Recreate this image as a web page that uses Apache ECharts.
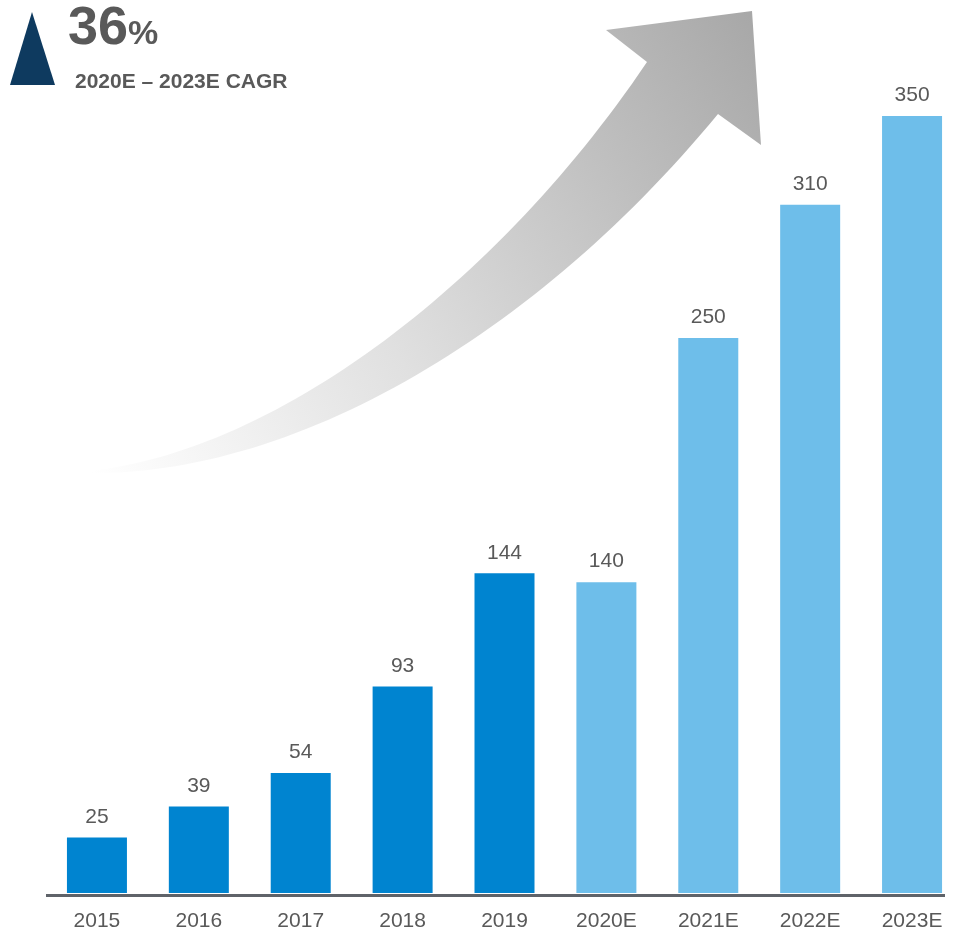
<!DOCTYPE html>
<html>
<head>
<meta charset="utf-8">
<script src="https://cdn.jsdelivr.net/npm/echarts@6/dist/echarts.min.js"></script>
<style>html,body{margin:0;padding:0;background:#fff;overflow:hidden}#c{width:975px;height:932px}</style>
</head>
<body>
<div id="c"></div>
<script>
var categories = ['2015', '2016', '2017', '2018', '2019', '2020E', '2021E', '2022E', '2023E'];
var values = [25, 39, 54, 93, 144, 140, 250, 310, 350];
var estimated = [false, false, false, false, false, true, true, true, true];
var cagrValue = '36';
var cagrLabel = '2020E \u2013 2023E CAGR';

var FONT = '"Liberation Sans", Arial, sans-serif';
var GREY = '#595959';
var DARK = '#0084D0';
var LIGHT = '#6EBEEA';

// decorative growth arrow outline (cubic curves sampled into a polygon)
function cubic(p0, p1, p2, p3, n) {
  var pts = [];
  for (var i = 0; i <= n; i++) {
    var t = i / n, u = 1 - t;
    pts.push([
      u*u*u*p0[0] + 3*u*u*t*p1[0] + 3*u*t*t*p2[0] + t*t*t*p3[0],
      u*u*u*p0[1] + 3*u*u*t*p1[1] + 3*u*t*t*p2[1] + t*t*t*p3[1]
    ]);
  }
  return pts;
}
var arrowPts = []
  .concat(cubic([90, 471], [280, 450], [500, 280], [647, 62], 60))
  .concat([[606, 30], [752, 11], [761, 145]])
  .concat(cubic([718, 114], [540, 330], [300, 475], [90, 473], 60));

var chart = echarts.init(document.getElementById('c'), null, {renderer: 'canvas'});
chart.setOption({
  animation: false,
  backgroundColor: '#ffffff',
  grid: {left: 46, width: 917, top: 5, bottom: 38, containLabel: false},
  xAxis: {
    type: 'category',
    data: categories,
    axisLine: {show: false},
    axisTick: {show: false},
    axisLabel: {color: GREY, fontSize: 21, fontFamily: FONT, margin: 18}
  },
  yAxis: {
    type: 'value', min: 0, max: 400,
    show: false, splitLine: {show: false}
  },
  series: [{
    type: 'bar',
    barWidth: 60,
    data: values.map(function (v, i) {
      return {value: v, itemStyle: {color: estimated[i] ? LIGHT : DARK}};
    }),
    label: {
      show: true, position: 'top', distance: 10,
      color: GREY, fontSize: 21, fontFamily: FONT
    }
  }],
  graphic: [
    {
      type: 'polygon', silent: true,
      shape: {points: arrowPts},
      style: {
        fill: new echarts.graphic.LinearGradient(90, 470, 760, 30, [
          {offset: 0, color: '#FFFFFF'},
          {offset: 0.4, color: '#E0E0E0'},
          {offset: 1, color: '#A8A8A8'}
        ], true)
      }
    },
    {
      type: 'polygon', silent: true,
      shape: {points: [[32, 12], [10, 85], [55, 85]]},
      style: {fill: '#0E3A5F'}
    },
    {
      type: 'text', silent: true, x: 68, y: 29,
      style: {text: cagrValue, font: 'bold 54px ' + FONT, fill: GREY, verticalAlign: 'middle', align: 'left'}
    },
    {
      type: 'text', silent: true, x: 128, y: 35,
      style: {text: '%', font: 'bold 34px ' + FONT, fill: GREY, verticalAlign: 'middle', align: 'left'}
    },
    {
      type: 'text', silent: true, x: 75, y: 82,
      style: {text: cagrLabel, font: 'bold 21px ' + FONT, fill: GREY, verticalAlign: 'middle', align: 'left'}
    },
    {
      type: 'line', silent: true,
      shape: {x1: 46, y1: 895.5, x2: 945, y2: 895.5},
      style: {stroke: '#5F6369', lineWidth: 3}
    }
  ]
});
</script>
</body>
</html>
